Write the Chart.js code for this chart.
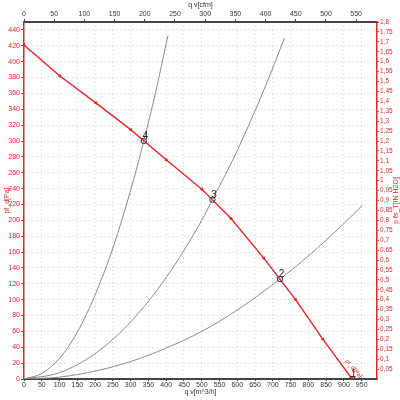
<!DOCTYPE html>
<html>
<head>
<meta charset="utf-8">
<script src="https://cdn.jsdelivr.net/npm/chart.js@4.4.0/dist/chart.umd.min.js"></script>
<style>
html, body { margin: 0; padding: 0; background: #fff; }
</style>
</head>
<body>
<canvas id="fan" width="400" height="400"></canvas>
<script>
// fan curve, q v [m^3/h] against pressure [Pa]
const fanQ = [0, 101, 202, 301, 401, 501, 583, 675, 764, 841, 923];
const fanP = [421, 382, 348, 314, 276, 239, 202, 152, 100, 50, 0];

// system curves (gray)
const sys4Q = [0, 50, 100, 150, 200, 250, 300, 337, 370, 405];
const sys4P = [0, 7, 26, 59, 106, 165, 238, 300, 361, 433];
const sys3Q = [0, 100, 200, 300, 400, 500, 530, 600, 680, 733];
const sys3P = [0, 8, 32, 72, 128, 200, 226, 288, 370, 430];
const sys2Q = [0, 100, 200, 300, 400, 500, 600, 720, 800, 900, 952];
const sys2P = [0, 2.4, 10, 22, 39, 60, 87, 126, 155, 196, 219];

// operating points
const opNames = ["1", "2", "3", "4"];
const opQ = [923, 720, 530, 337];
const opP = [0, 126, 226, 300];

// axis ranges and ticks
const qMax = 993, cfmMax = 584.5, paMax = 450, inMax = 1.8;
const qTicks = [0, 50, 100, 150, 200, 250, 300, 350, 400, 450, 500, 550, 600, 650, 700, 750, 800, 850, 900, 950];
const cfmTicks = [0, 50, 100, 150, 200, 250, 300, 350, 400, 450, 500, 550];
const paTicks = [0, 20, 40, 60, 80, 100, 120, 140, 160, 180, 200, 220, 240, 260, 280, 300, 320, 340, 360, 380, 400, 420, 440];
const inTicks = [0.05, 0.1, 0.15, 0.2, 0.25, 0.3, 0.35, 0.4, 0.45, 0.5, 0.55, 0.6, 0.65, 0.7, 0.75, 0.8, 0.85, 0.9, 0.95, 1,
  1.05, 1.1, 1.15, 1.2, 1.25, 1.3, 1.35, 1.4, 1.45, 1.5, 1.55, 1.6, 1.65, 1.7, 1.75, 1.8];

const RED = "#e3262b";
const GRAY = "#8a8a8a";
const FONT = "'Liberation Sans', Arial, sans-serif";

function pts(qs, ps) {
    return qs.map((q, i) => ({x: q, y: ps[i]}));
}

function setTicks(list) {
    return function(s) { s.ticks = list.map(v => ({value: v})); };
}

// numbers on the operating points, curve name and right title
const labels = {
    id: "labels",
    afterDatasetsDraw(chart) {
        const ctx = chart.ctx;
        const x = chart.scales.x, y = chart.scales.y;
        ctx.save();
        ctx.font = "10px " + FONT;
        ctx.fillStyle = "#222";
        ctx.textAlign = "center";
        ctx.textBaseline = "alphabetic";
        opNames.forEach((n, i) => {
            ctx.fillText(n, x.getPixelForValue(opQ[i]) + 1.5, y.getPixelForValue(opP[i]) - 2);
        });

        // small red curve tag near free blow
        ctx.save();
        ctx.translate(x.getPixelForValue(927), y.getPixelForValue(13));
        ctx.rotate(50 * Math.PI / 180);
        ctx.font = "6px " + FONT;
        ctx.fillStyle = RED;
        ctx.textBaseline = "middle";
        ctx.fillText("pf_d[Pa]", 0, 0);
        ctx.restore();

        // right axis title, read bottom to top
        const a = chart.chartArea;
        ctx.translate(396, (a.top + a.bottom) / 2);
        ctx.rotate(-Math.PI / 2);
        ctx.font = "7px " + FONT;
        ctx.fillStyle = RED;
        ctx.textBaseline = "middle";
        ctx.fillText("p fs_T[IN H2O]", 0, 0);
        ctx.restore();
    }
};

const gray = (q, p) => ({
    data: pts(q, p),
    showLine: true,
    borderColor: GRAY,
    borderWidth: 1,
    pointRadius: 0,
    cubicInterpolationMode: "monotone",
    xAxisID: "x",
    yAxisID: "y"
});

new Chart(document.getElementById("fan"), {
    type: "scatter",
    data: {
        datasets: [
            {
                data: pts(opQ, opP),
                showLine: false,
                pointStyle: "circle",
                pointRadius: 2.7,
                borderWidth: 1,
                borderColor: "#333",
                backgroundColor: "rgba(255,255,255,0)",
                xAxisID: "x",
                yAxisID: "y"
            },
            {
                data: pts(fanQ, fanP),
                showLine: true,
                borderColor: RED,
                borderWidth: 1.4,
                pointStyle: "triangle",
                pointRotation: 140,
                pointRadius: 2.3,
                pointBackgroundColor: RED,
                pointBorderColor: RED,
                pointBorderWidth: 0,
                tension: 0,
                xAxisID: "x",
                yAxisID: "y"
            },
            gray(sys4Q, sys4P),
            gray(sys3Q, sys3P),
            gray(sys2Q, sys2P)
        ]
    },
    options: {
        responsive: false,
        animation: false,
        layout: {padding: 0},
        plugins: {legend: {display: false}, tooltip: {enabled: false}},
        scales: {
            x: {
                type: "linear",
                position: "bottom",
                min: 0,
                max: qMax,
                afterBuildTicks: setTicks(qTicks),
                afterFit(s) { s.height = 21; },
                ticks: {color: "#333", font: {family: FONT, size: 7}, padding: 0, maxRotation: 0, autoSkip: false},
                grid: {color: "#cfcfcf", tickColor: "#444", tickLength: 2, lineWidth: 1},
                border: {color: "#444", width: 2, dash: [1, 3]},
                title: {display: true, text: "q v[m^3/h]", color: "#333", font: {family: FONT, size: 7}, padding: {top: 0, bottom: 4}}
            },
            x2: {
                type: "linear",
                position: "top",
                min: 0,
                max: cfmMax,
                afterBuildTicks: setTicks(cfmTicks),
                afterFit(s) { s.height = 22; },
                ticks: {color: "#333", font: {family: FONT, size: 7}, padding: 1, maxRotation: 0, autoSkip: false},
                grid: {drawOnChartArea: false, tickColor: "#444", tickLength: 3},
                border: {color: "#444", width: 2},
                title: {display: true, text: "q v[cfm]", color: "#333", font: {family: FONT, size: 7}, padding: {top: 1, bottom: 0}}
            },
            y: {
                type: "linear",
                position: "left",
                min: 0,
                max: paMax,
                afterBuildTicks: setTicks(paTicks),
                afterFit(s) { s.width = 24; },
                ticks: {color: RED, font: {family: FONT, size: 7}, padding: 1, autoSkip: false},
                grid: {color: "#cfcfcf", tickColor: RED, tickLength: 3, lineWidth: 1},
                border: {color: RED, width: 1.5, dash: [1, 3]},
                title: {display: true, text: "pf_d[Pa]", color: RED, font: {family: FONT, size: 7}, padding: {top: 3, bottom: 0}}
            },
            y2: {
                type: "linear",
                position: "right",
                min: 0,
                max: inMax,
                afterBuildTicks: setTicks(inTicks),
                afterFit(s) { s.width = 23; },
                ticks: {
                    color: RED,
                    font: {family: FONT, size: 6.5},
                    padding: 1,
                    autoSkip: false,
                    callback: v => String(v).replace(".", ",")
                },
                grid: {drawOnChartArea: false, tickColor: RED, tickLength: 2},
                border: {color: RED, width: 1.5}
            }
        }
    },
    plugins: [labels]
});
</script>
</body>
</html>
